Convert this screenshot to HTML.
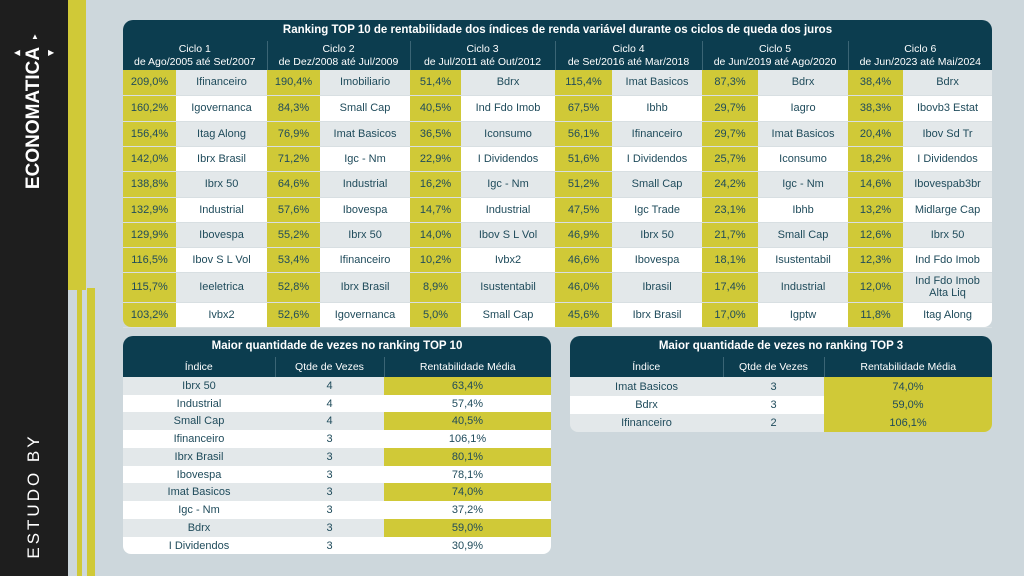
<!DOCTYPE html>
<html><head><meta charset="utf-8"><style>
*{margin:0;padding:0;box-sizing:border-box}
body{width:1024px;height:576px;background:#cdd7dc;position:relative;overflow:hidden;font-family:"Liberation Sans",sans-serif;color:#1f4b5b}
.abs{position:absolute}
table{border-collapse:collapse;table-layout:fixed;position:absolute}
td{text-align:center;font-size:11px;padding:0;overflow:hidden;white-space:nowrap}
.hd td{background:#0c3d4f;color:#fff}
.t{background:#0c3d4f;color:#fff;font-weight:bold;font-size:11.5px;text-align:center;position:absolute;border-radius:10px 10px 0 0}
.y{background:#d0c937}
.g{background:#e3e8ea}
.w{background:#fff}
#m td{border-bottom:1px solid #d8dfe2}
#m .hd td{border-left:1px solid #3b6575;border-bottom:none;line-height:13px;font-size:10.5px}
.s .hd td{border-left:1px solid #3b6575;font-size:10.5px}
</style></head><body>
<div class="abs" style="left:0;top:0;width:68px;height:576px;background:#1e1e1e"></div>
<div class="abs" style="left:68px;top:0;width:18px;height:290px;background:#d0c937"></div>
<div class="abs" style="left:77px;top:288px;width:5px;height:288px;background:#d0c937"></div>
<div class="abs" style="left:87px;top:288px;width:8px;height:288px;background:#d0c937"></div>
<div class="abs" style="left:34px;top:118px;transform:translate(-50%,-50%) rotate(-90deg);color:#fff;font-weight:bold;font-size:19px;white-space:nowrap">ECONOMATICA</div>
<div class="abs" style="left:31px;top:32px;color:#fff;font-size:8px">▲</div>
<div class="abs" style="left:14px;top:48px;color:#fff;font-size:8px">◀</div>
<div class="abs" style="left:48px;top:48px;color:#fff;font-size:8px">▶</div>
<div class="abs" style="left:34px;top:496px;transform:translate(-50%,-50%) rotate(-90deg);color:#fff;font-size:17px;letter-spacing:3px;white-space:nowrap">ESTUDO BY</div>

<div class="t" style="left:123px;top:20px;width:869px;height:21px;line-height:21px">Ranking TOP 10 de rentabilidade dos índices de renda variável durante os ciclos de queda dos juros</div>
<table id="m" style="left:123px;top:41px;width:869px">
<colgroup><col style="width:53px"><col style="width:91px"><col style="width:53px"><col style="width:90px"><col style="width:51px"><col style="width:94px"><col style="width:57px"><col style="width:90px"><col style="width:56px"><col style="width:90px"><col style="width:55px"><col style="width:89px"></colgroup>
<tr class="hd" style="height:29px"><td colspan="2" style="border-left:none">Ciclo 1<br>de Ago/2005 até Set/2007</td><td colspan="2">Ciclo 2<br>de Dez/2008 até Jul/2009</td><td colspan="2">Ciclo 3<br>de Jul/2011 até Out/2012</td><td colspan="2">Ciclo 4<br>de Set/2016 até Mar/2018</td><td colspan="2">Ciclo 5<br>de Jun/2019 até Ago/2020</td><td colspan="2">Ciclo 6<br>de Jun/2023 até Mai/2024</td></tr>
<tr style="height:25px"><td class="y">209,0%</td><td class="g">Ifinanceiro</td><td class="y">190,4%</td><td class="g">Imobiliario</td><td class="y">51,4%</td><td class="g">Bdrx</td><td class="y">115,4%</td><td class="g">Imat Basicos</td><td class="y">87,3%</td><td class="g">Bdrx</td><td class="y">38,4%</td><td class="g">Bdrx</td></tr>
<tr style="height:26px"><td class="y">160,2%</td><td class="w">Igovernanca</td><td class="y">84,3%</td><td class="w">Small Cap</td><td class="y">40,5%</td><td class="w">Ind Fdo Imob</td><td class="y">67,5%</td><td class="w">Ibhb</td><td class="y">29,7%</td><td class="w">Iagro</td><td class="y">38,3%</td><td class="w">Ibovb3 Estat</td></tr>
<tr style="height:25px"><td class="y">156,4%</td><td class="g">Itag Along</td><td class="y">76,9%</td><td class="g">Imat Basicos</td><td class="y">36,5%</td><td class="g">Iconsumo</td><td class="y">56,1%</td><td class="g">Ifinanceiro</td><td class="y">29,7%</td><td class="g">Imat Basicos</td><td class="y">20,4%</td><td class="g">Ibov Sd Tr</td></tr>
<tr style="height:25px"><td class="y">142,0%</td><td class="w">Ibrx Brasil</td><td class="y">71,2%</td><td class="w">Igc - Nm</td><td class="y">22,9%</td><td class="w">I Dividendos</td><td class="y">51,6%</td><td class="w">I Dividendos</td><td class="y">25,7%</td><td class="w">Iconsumo</td><td class="y">18,2%</td><td class="w">I Dividendos</td></tr>
<tr style="height:26px"><td class="y">138,8%</td><td class="g">Ibrx 50</td><td class="y">64,6%</td><td class="g">Industrial</td><td class="y">16,2%</td><td class="g">Igc - Nm</td><td class="y">51,2%</td><td class="g">Small Cap</td><td class="y">24,2%</td><td class="g">Igc - Nm</td><td class="y">14,6%</td><td class="g">Ibovespab3br</td></tr>
<tr style="height:25px"><td class="y">132,9%</td><td class="w">Industrial</td><td class="y">57,6%</td><td class="w">Ibovespa</td><td class="y">14,7%</td><td class="w">Industrial</td><td class="y">47,5%</td><td class="w">Igc Trade</td><td class="y">23,1%</td><td class="w">Ibhb</td><td class="y">13,2%</td><td class="w">Midlarge Cap</td></tr>
<tr style="height:25px"><td class="y">129,9%</td><td class="g">Ibovespa</td><td class="y">55,2%</td><td class="g">Ibrx 50</td><td class="y">14,0%</td><td class="g">Ibov S L Vol</td><td class="y">46,9%</td><td class="g">Ibrx 50</td><td class="y">21,7%</td><td class="g">Small Cap</td><td class="y">12,6%</td><td class="g">Ibrx 50</td></tr>
<tr style="height:25px"><td class="y">116,5%</td><td class="w">Ibov S L Vol</td><td class="y">53,4%</td><td class="w">Ifinanceiro</td><td class="y">10,2%</td><td class="w">Ivbx2</td><td class="y">46,6%</td><td class="w">Ibovespa</td><td class="y">18,1%</td><td class="w">Isustentabil</td><td class="y">12,3%</td><td class="w">Ind Fdo Imob</td></tr>
<tr style="height:30px"><td class="y">115,7%</td><td class="g">Ieeletrica</td><td class="y">52,8%</td><td class="g">Ibrx Brasil</td><td class="y">8,9%</td><td class="g">Isustentabil</td><td class="y">46,0%</td><td class="g">Ibrasil</td><td class="y">17,4%</td><td class="g">Industrial</td><td class="y">12,0%</td><td class="g" style="white-space:normal;line-height:12px">Ind Fdo Imob<br>Alta Liq</td></tr>
<tr style="height:25px"><td class="y" style="border-radius:0 0 0 8px">103,2%</td><td class="w">Ivbx2</td><td class="y">52,6%</td><td class="w">Igovernanca</td><td class="y">5,0%</td><td class="w">Small Cap</td><td class="y">45,6%</td><td class="w">Ibrx Brasil</td><td class="y">17,0%</td><td class="w">Igptw</td><td class="y">11,8%</td><td class="w" style="border-radius:0 0 8px 0">Itag Along</td></tr>
</table>

<div class="t" style="left:123px;top:336px;width:428px;height:21px;line-height:21px">Maior quantidade de vezes no ranking TOP 10</div>
<table class="s" style="left:123px;top:357px;width:428px">
<colgroup><col style="width:152px"><col style="width:109px"><col style="width:167px"></colgroup>
<tr class="hd" style="height:20px"><td style="border-left:none">Índice</td><td>Qtde de Vezes</td><td>Rentabilidade Média</td></tr>
<tr style="height:18px" class="g"><td>Ibrx 50</td><td>4</td><td class="y">63,4%</td></tr>
<tr style="height:17px" class="w"><td>Industrial</td><td>4</td><td>57,4%</td></tr>
<tr style="height:18px" class="g"><td>Small Cap</td><td>4</td><td class="y">40,5%</td></tr>
<tr style="height:18px" class="w"><td>Ifinanceiro</td><td>3</td><td>106,1%</td></tr>
<tr style="height:18px" class="g"><td>Ibrx Brasil</td><td>3</td><td class="y">80,1%</td></tr>
<tr style="height:17px" class="w"><td>Ibovespa</td><td>3</td><td>78,1%</td></tr>
<tr style="height:18px" class="g"><td>Imat Basicos</td><td>3</td><td class="y">74,0%</td></tr>
<tr style="height:18px" class="w"><td>Igc - Nm</td><td>3</td><td>37,2%</td></tr>
<tr style="height:18px" class="g"><td>Bdrx</td><td>3</td><td class="y">59,0%</td></tr>
<tr style="height:17px" class="w"><td style="border-radius:0 0 0 8px">I Dividendos</td><td>3</td><td style="border-radius:0 0 8px 0">30,9%</td></tr>
</table>

<div class="t" style="left:570px;top:336px;width:422px;height:21px;line-height:21px">Maior quantidade de vezes no ranking TOP 3</div>
<table class="s" style="left:570px;top:357px;width:422px">
<colgroup><col style="width:153px"><col style="width:101px"><col style="width:168px"></colgroup>
<tr class="hd" style="height:20px"><td style="border-left:none">Índice</td><td>Qtde de Vezes</td><td>Rentabilidade Média</td></tr>
<tr style="height:19px" class="g"><td>Imat Basicos</td><td>3</td><td class="y">74,0%</td></tr>
<tr style="height:18px" class="w"><td>Bdrx</td><td>3</td><td class="y">59,0%</td></tr>
<tr style="height:18px" class="g"><td style="border-radius:0 0 0 8px">Ifinanceiro</td><td>2</td><td class="y" style="border-radius:0 0 8px 0">106,1%</td></tr>
</table>
</body></html>
